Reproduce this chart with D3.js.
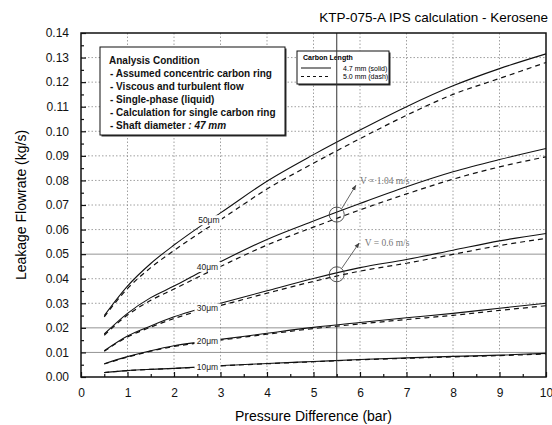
<!DOCTYPE html>
<html>
<head>
<meta charset="utf-8">
<script src="https://cdn.jsdelivr.net/npm/d3@7"></script>
<style>
  body { margin: 0; background: #fff; }
  svg { font-family: "Liberation Sans", Arial, sans-serif; }
</style>
</head>
<body>
<svg width="552" height="425"></svg>
<script>
// pressure difference (bar)
const pressure = [0.5, 1, 1.5, 2, 2.5, 3, 4, 5, 6, 7, 8, 9, 10];
const clearances = ["10μm", "20μm", "30μm", "40μm", "50μm"];

// leakage flowrate (kg/s), 4.7 mm carbon (solid)
const solid10 = [0.0018, 0.0026, 0.0031, 0.0035, 0.004, 0.0046, 0.0055, 0.0063, 0.0071, 0.0078, 0.0084, 0.0089, 0.0096];
const solid20 = [0.0054, 0.0083, 0.0107, 0.0127, 0.0141, 0.0153, 0.0178, 0.0202, 0.0222, 0.0241, 0.0259, 0.028, 0.030];
const solid30 = [0.0107, 0.0167, 0.0208, 0.0245, 0.0275, 0.030, 0.0351, 0.0401, 0.0445, 0.0478, 0.0516, 0.0554, 0.0584];
const solid40 = [0.0175, 0.0259, 0.0323, 0.037, 0.042, 0.0469, 0.056, 0.0635, 0.0706, 0.0774, 0.0835, 0.0885, 0.093];
const solid50 = [0.025, 0.037, 0.0462, 0.0537, 0.0605, 0.0668, 0.0797, 0.0905, 0.1005, 0.110, 0.1185, 0.1255, 0.1315];

// 5.0 mm carbon (dash)
const dash10 = [0.0018, 0.0026, 0.0031, 0.0035, 0.0039, 0.0045, 0.0054, 0.0062, 0.007, 0.0076, 0.0082, 0.0087, 0.0094];
const dash20 = [0.0053, 0.0081, 0.0105, 0.0124, 0.0138, 0.015, 0.0174, 0.0197, 0.0216, 0.0234, 0.0251, 0.0271, 0.029];
const dash30 = [0.0105, 0.0163, 0.0203, 0.0238, 0.0267, 0.0291, 0.0341, 0.0389, 0.0431, 0.0463, 0.0499, 0.0535, 0.0564];
const dash40 = [0.017, 0.0252, 0.0312, 0.0358, 0.0405, 0.045, 0.0537, 0.061, 0.068, 0.0745, 0.0805, 0.0855, 0.0896];
const dash50 = [0.0245, 0.036, 0.0445, 0.0515, 0.058, 0.064, 0.0765, 0.087, 0.097, 0.1065, 0.115, 0.1215, 0.128];

// curve label anchors
const labelX = [2.72, 2.72, 2.72, 2.72, 2.75];
const labelY = [0.0042, 0.0148, 0.0279, 0.0448, 0.0638];

const conditions = [
  "- Assumed concentric carbon ring",
  "- Viscous and turbulent flow",
  "- Single-phase (liquid)",
  "- Calculation for single carbon ring",
];

const yTicks = d3.range(0, 0.1401, 0.01);
const xTicks = d3.range(0, 11, 1);

const svg = d3.select("svg");
const area = { left: 81, right: 546, top: 33, bottom: 377 };

const scX = d3.scaleLinear().domain([0, 10]).range([area.left, area.right]);
const scY = d3.scaleLinear().domain([0, 0.14]).range([area.bottom, area.top]);

// grid
const grid = svg.append("g");
grid.selectAll(".gy")
  .data(yTicks.slice(1, -1))
  .enter()
  .append("line")
  .attr("x1", area.left).attr("x2", area.right)
  .attr("y1", (d) => scY(d)).attr("y2", (d) => scY(d))
  .style("stroke", (d) => ([1, 2, 5].includes(Math.round(d * 100)) ? "#777" : "#888"))
  .style("stroke-dasharray", (d) => ([1, 2, 5].includes(Math.round(d * 100)) ? null : "1.5,2"))
  .style("stroke-width", 0.8);
grid.selectAll(".gx")
  .data(xTicks.slice(1, -1))
  .enter()
  .append("line")
  .attr("x1", (d) => scX(d)).attr("x2", (d) => scX(d))
  .attr("y1", area.top).attr("y2", area.bottom)
  .style("stroke", "#888")
  .style("stroke-dasharray", "1.5,2")
  .style("stroke-width", 0.8);

// curves
const line = d3.line()
  .x((d) => scX(d[0]))
  .y((d) => scY(d[1]))
  .curve(d3.curveMonotoneX);

const solids = [solid10, solid20, solid30, solid40, solid50];
const dashes = [dash10, dash20, dash30, dash40, dash50];

function drawCurve(values, dashed) {
  svg.append("path")
    .datum(pressure.map((p, i) => [p, values[i]]))
    .attr("d", line)
    .style("fill", "none")
    .style("stroke", "#111")
    .style("stroke-width", dashed ? 1.2 : 1.1)
    .style("stroke-dasharray", dashed ? "5,4" : null);
}
dashes.forEach((v) => drawCurve(v, true));
solids.forEach((v) => drawCurve(v, false));

// curve labels
clearances.forEach((name, i) => {
  const g = svg.append("g")
    .attr("transform", `translate(${scX(labelX[i])}, ${scY(labelY[i])})`);
  g.append("rect")
    .attr("x", -13).attr("y", -5)
    .attr("width", 26).attr("height", 10)
    .style("fill", "#fff");
  g.append("text")
    .attr("text-anchor", "middle")
    .attr("dy", "0.35em")
    .style("font-size", "8.5px")
    .style("fill", "#222")
    .text(name);
});

// analysis condition box
const boxA = { x: 100, y: 47, w: 185, h: 88 };
svg.append("rect")
  .attr("x", boxA.x + 1.5).attr("y", boxA.y + 1.5)
  .attr("width", boxA.w).attr("height", boxA.h)
  .style("fill", "#333");
svg.append("rect")
  .attr("x", boxA.x).attr("y", boxA.y)
  .attr("width", boxA.w).attr("height", boxA.h)
  .style("fill", "#fff").style("stroke", "#111");
const boxText = svg.append("text")
  .attr("x", boxA.x + 9)
  .style("font-size", "10px")
  .style("font-weight", "bold")
  .style("fill", "#111");
boxText.append("tspan").attr("x", boxA.x + 9).attr("y", boxA.y + 17).text("Analysis Condition");
conditions.forEach((c, i) => {
  boxText.append("tspan").attr("x", boxA.x + 10).attr("y", boxA.y + 30 + i * 13).text(c);
});
const lastLine = boxText.append("tspan").attr("x", boxA.x + 10).attr("y", boxA.y + 30 + 4 * 13);
lastLine.append("tspan").text("- Shaft diameter ");
lastLine.append("tspan").style("font-style", "italic").text(": 47 mm");

// carbon length legend
const boxL = { x: 297, y: 51, w: 92, h: 33 };
svg.append("rect")
  .attr("x", boxL.x + 1.5).attr("y", boxL.y + 1.5)
  .attr("width", boxL.w).attr("height", boxL.h)
  .style("fill", "#333");
svg.append("rect")
  .attr("x", boxL.x).attr("y", boxL.y)
  .attr("width", boxL.w).attr("height", boxL.h)
  .style("fill", "#fff").style("stroke", "#111");
svg.append("text")
  .attr("x", boxL.x + 6).attr("y", boxL.y + 9)
  .style("font-size", "7px").style("font-weight", "bold")
  .text("Carbon Length");
[["4.7 mm (solid)", null], ["5.0 mm (dash)", "3,3"]].forEach((d, i) => {
  const yy = boxL.y + 17 + i * 8.5;
  svg.append("line")
    .attr("x1", boxL.x + 4).attr("x2", boxL.x + 34)
    .attr("y1", yy).attr("y2", yy)
    .style("stroke", "#111").style("stroke-width", 1)
    .style("stroke-dasharray", d[1]);
  svg.append("text")
    .attr("x", boxL.x + 46).attr("y", yy + 2.5)
    .style("font-size", "7px")
    .text(d[0]);
});

// reference line at 5.5 bar with velocity markers
svg.append("line")
  .attr("x1", scX(5.5)).attr("x2", scX(5.5))
  .attr("y1", area.top).attr("y2", area.bottom)
  .style("stroke", "#333").style("stroke-width", 1);

svg.append("defs").append("marker")
  .attr("id", "arr")
  .attr("viewBox", "0 0 10 10")
  .attr("refX", 9).attr("refY", 5)
  .attr("markerWidth", 6).attr("markerHeight", 6)
  .attr("orient", "auto")
  .append("path")
  .attr("d", "M0,1 L10,5 L0,9 Z")
  .style("fill", "#444");

const markers = [
  { y: 0.0661, tipX: 5.91, tipY: 0.078, label: "V = 1.04 m/s", tx: 6.0, ty: 0.0785 },
  { y: 0.0418, tipX: 5.98, tipY: 0.0545, label: "V = 0.6 m/s", tx: 6.1, ty: 0.0535 },
];
markers.forEach((m) => {
  svg.append("circle")
    .attr("cx", scX(5.5)).attr("cy", scY(m.y))
    .attr("r", 7.5)
    .style("fill", "none").style("stroke", "#444").style("stroke-width", 0.9);
  svg.append("line")
    .attr("x1", scX(5.5) + 5).attr("y1", scY(m.y) - 6)
    .attr("x2", scX(m.tipX)).attr("y2", scY(m.tipY))
    .attr("marker-end", "url(#arr)")
    .style("stroke", "#555").style("stroke-width", 0.9);
  svg.append("text")
    .attr("x", scX(m.tx)).attr("y", scY(m.ty))
    .style("font-family", "'Liberation Serif', serif")
    .style("font-size", "9.5px")
    .style("fill", "#777")
    .text(m.label);
});

// frame
svg.append("rect")
  .attr("x", area.left).attr("y", area.top)
  .attr("width", area.right - area.left).attr("height", area.bottom - area.top)
  .style("fill", "none").style("stroke", "#111").style("stroke-width", 1.5);

// axes
const axisY = d3.axisLeft(scY).tickValues(yTicks).tickFormat(d3.format(".2f"))
  .tickSizeInner(-5).tickSizeOuter(0).tickPadding(12);
const axisYMinor = d3.axisLeft(scY).tickValues(yTicks.slice(0, -1).map((d) => d + 0.005))
  .tickFormat("").tickSizeInner(-3).tickSizeOuter(0);
const axisX = d3.axisBottom(scX).tickValues(xTicks).tickFormat(d3.format("d"))
  .tickSizeInner(-5).tickSizeOuter(0).tickPadding(11);
const axisXMinor = d3.axisBottom(scX).tickValues(xTicks.slice(0, -1).map((d) => d + 0.5))
  .tickFormat("").tickSizeInner(-3).tickSizeOuter(0);

[axisY, axisYMinor].forEach((ax) => {
  svg.append("g").attr("transform", `translate(${area.left},0)`).call(ax);
});
[axisX, axisXMinor].forEach((ax) => {
  svg.append("g").attr("transform", `translate(0,${area.bottom})`).call(ax);
});
svg.selectAll(".domain").remove();
svg.selectAll(".tick line").style("stroke", "#111").style("stroke-width", 1.2);
svg.selectAll(".tick text")
  .style("font-family", "'Liberation Sans', Arial, sans-serif")
  .style("font-size", "12px")
  .style("fill", "#111");

// titles
svg.append("text")
  .attr("x", 548).attr("y", 22)
  .attr("text-anchor", "end")
  .style("font-size", "13.5px")
  .text("KTP-075-A IPS calculation - Kerosene");
svg.append("text")
  .attr("x", (area.left + area.right) / 2).attr("y", 421)
  .attr("text-anchor", "middle")
  .style("font-size", "14px")
  .text("Pressure Difference (bar)");
svg.append("text")
  .attr("transform", `translate(26, ${(area.top + area.bottom) / 2}) rotate(-90)`)
  .attr("text-anchor", "middle")
  .style("font-size", "14px")
  .text("Leakage Flowrate (kg/s)");
</script>
</body>
</html>
